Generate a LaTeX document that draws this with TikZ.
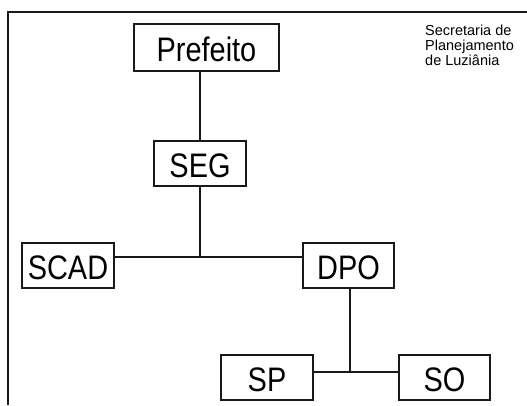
\documentclass[tikz,border=0pt]{standalone}
\usepackage{fontspec}
\setmainfont{Liberation Sans}
\newfontfamily\caixafont[FakeStretch=0.85]{Liberation Sans}
\usepackage{tikz}
\usetikzlibrary{calc}

\tikzset{
  caixa/.style={draw=black!90, line width=2pt, inner sep=0pt,
    minimum width=92pt, minimum height=45pt,
    text height=27pt, text depth=0pt,
    font=\caixafont\fontsize{34}{37}\selectfont},
  liga/.style={draw=black!90, line width=2pt}
}

\begin{document}
\begin{tikzpicture}[x=1pt, y=-1pt]
  \useasboundingbox (0,0) rectangle (527,405);

  % moldura
  \draw[liga] (527,12) -- (8,12) -- (8,405);

  \node[caixa, minimum width=145pt, minimum height=47pt] (Prefeito) at (206.5,47.5) {Prefeito};
  \node[caixa] (SEG) at (200,163.5) {SEG};
  \node[caixa] (SCAD) at (68,265.5) {SCAD};
  \node[caixa, minimum width=91pt] (DPO) at (348.5,265.5) {DPO};
  \node[caixa] (SP) at (267,377.5) {SP};
  \node[caixa, minimum width=91pt] (SO) at (444.5,377.5) {SO};

  \coordinate (j1) at (200,257);
  \coordinate (j2) at (350,372);

  \draw[liga] (SEG.north) -- (SEG.north |- Prefeito.south);
  \draw[liga] (SEG.south) -- (j1);
  \draw[liga] (SCAD.east |- j1) -- (DPO.west |- j1);
  \draw[liga] (DPO.south -| j2) -- (j2);
  \draw[liga] (SP.east |- j2) -- (SO.west |- j2);

  \node[anchor=north west, align=left, inner sep=0pt,
    font=\fontsize{14.5}{15}\selectfont] (sec) at (425,25)
    {Secretaria de\\Planejamento\\de Luziânia};

\end{tikzpicture}
\end{document}
